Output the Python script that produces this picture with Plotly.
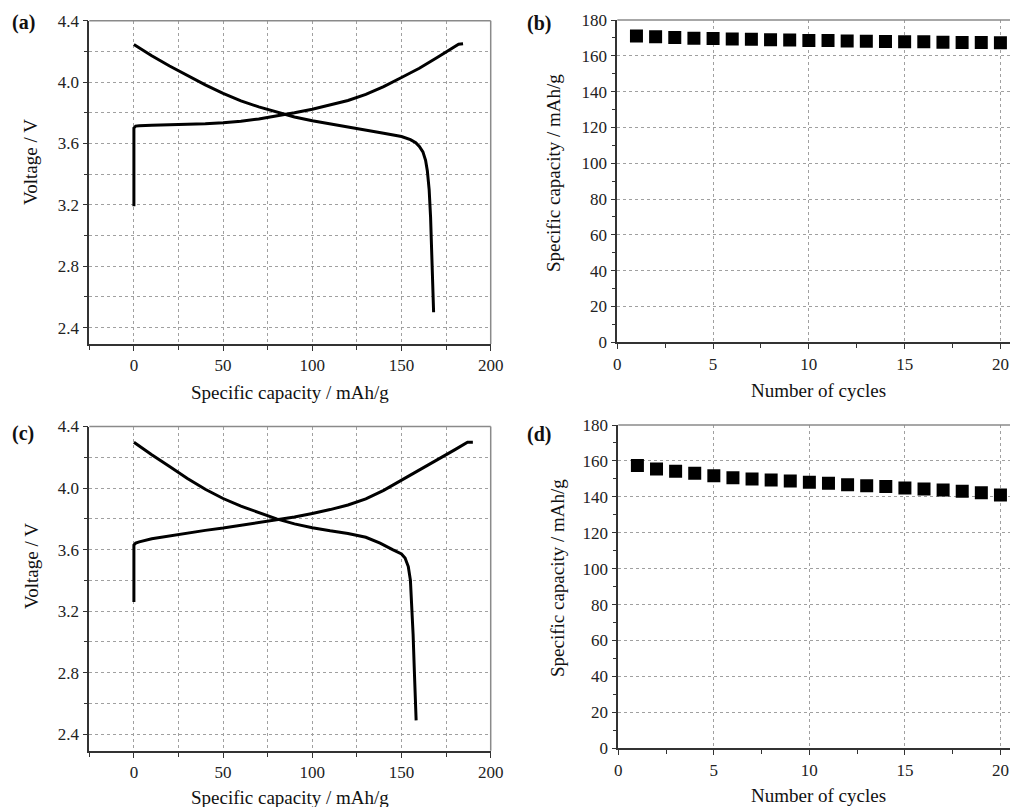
import plotly.graph_objects as go

# ---------------- data ----------------
# (a) charge / discharge curves
a_chg_x = [0, 0, 0, 1, 3, 10, 25, 40, 50, 60, 70, 80, 90, 100, 110, 120, 130, 140, 150, 160, 170, 178, 182, 184.5]
a_chg_y = [3.19, 3.50, 3.70, 3.713, 3.716, 3.718, 3.722, 3.728, 3.735, 3.745, 3.76, 3.778, 3.80, 3.823, 3.85,
           3.88, 3.92, 3.97, 4.03, 4.09, 4.16, 4.215, 4.247, 4.25]
a_dis_x = [0, 5, 10, 20, 30, 40, 50, 60, 70, 80, 90, 100, 110, 120, 130, 140, 150, 155, 158, 160, 162,
           163.5, 164.5, 165.5, 166.3, 167.2, 168]
a_dis_y = [4.245, 4.207, 4.172, 4.105, 4.042, 3.982, 3.927, 3.878, 3.838, 3.803, 3.772, 3.748, 3.728, 3.71, 3.69,
           3.667, 3.645, 3.625, 3.605, 3.58, 3.545, 3.49, 3.42, 3.30, 3.12, 2.85, 2.50]

# (c) charge / discharge curves
c_chg_x = [0, 0, 0, 1, 3, 10, 25, 40, 50, 60, 70, 80, 90, 100, 110, 120, 130, 140, 150, 160, 170, 180, 187, 190]
c_chg_y = [3.26, 3.45, 3.63, 3.642, 3.65, 3.67, 3.70, 3.725, 3.74, 3.758, 3.775, 3.793, 3.812, 3.835, 3.86,
           3.89, 3.93, 3.985, 4.05, 4.115, 4.18, 4.25, 4.298, 4.298]
c_dis_x = [0, 5, 10, 20, 30, 40, 50, 60, 70, 80, 90, 100, 110, 120, 130, 138, 145, 150, 152, 153.8, 155,
           155.8, 156.5, 157.3, 158.2]
c_dis_y = [4.298, 4.256, 4.216, 4.14, 4.062, 3.992, 3.932, 3.882, 3.84, 3.80, 3.767, 3.742, 3.722, 3.705, 3.68,
           3.642, 3.60, 3.572, 3.545, 3.49, 3.40, 3.25, 3.05, 2.78, 2.49]

# (b), (d) cycling
cycles = list(range(1, 21))
b_cap = [171.0, 170.6, 170.2, 169.8, 169.6, 169.4, 169.2, 169.0, 168.8, 168.6,
         168.5, 168.3, 168.2, 168.0, 167.9, 167.8, 167.6, 167.5, 167.4, 167.3]
d_cap = [157.4, 155.5, 154.2, 153.1, 151.8, 150.7, 149.9, 149.4, 148.8, 148.1,
         147.5, 146.8, 146.2, 145.7, 144.9, 144.4, 143.8, 143.1, 142.3, 141.0]

x_title_ac = "Specific capacity / mAh/g"
y_title_ac = "Voltage / V"
x_title_bd = "Number of cycles"
y_title_bd = "Specific capacity / mAh/g"
panel_labels = ["(a)", "(b)", "(c)", "(d)"]

# ---------------- figure ----------------
W, H = 1010, 807
FONT = "Liberation Serif"
fig = go.Figure()

line_style = dict(color="black", width=3)
fig.add_trace(go.Scatter(x=a_chg_x, y=a_chg_y, mode="lines", line=line_style, xaxis="x", yaxis="y"))
fig.add_trace(go.Scatter(x=a_dis_x, y=a_dis_y, mode="lines", line=line_style, xaxis="x", yaxis="y"))
fig.add_trace(go.Scatter(x=cycles, y=b_cap, mode="markers",
                         marker=dict(symbol="square", size=13, color="black"), xaxis="x2", yaxis="y2"))
fig.add_trace(go.Scatter(x=c_chg_x, y=c_chg_y, mode="lines", line=line_style, xaxis="x3", yaxis="y3"))
fig.add_trace(go.Scatter(x=c_dis_x, y=c_dis_y, mode="lines", line=line_style, xaxis="x3", yaxis="y3"))
fig.add_trace(go.Scatter(x=cycles, y=d_cap, mode="markers",
                         marker=dict(symbol="square", size=13, color="black"), xaxis="x4", yaxis="y4"))

def px_dom(a, b):
    return [a / W, b / W]

def py_dom(top, bottom):
    return [1 - bottom / H, 1 - top / H]

grid = dict(gridcolor="#a0a0a0", gridwidth=1, griddash="dot")
axline = dict(showline=True, linecolor="#333333", linewidth=1.6, ticks="outside",
              tickcolor="#333333", ticklen=5, tickwidth=1.2, zeroline=False,
              tickfont=dict(family=FONT, size=17, color="#222222"))

def volt_x(dom, anchor):
    return dict(domain=dom, anchor=anchor, range=[-25, 200], dtick=50, tick0=0,
                showgrid=True, **grid, **axline,
                minor=dict(dtick=25, tick0=0, ticks="outside", ticklen=4, tickcolor="#333333",
                           showgrid=True, gridcolor="#a0a0a0", griddash="dot"))

def volt_y(dom, anchor):
    return dict(domain=dom, anchor=anchor, range=[2.293, 4.4], dtick=0.4, tick0=2.4,
                tickformat=".1f", showgrid=True, **grid, **axline,
                minor=dict(dtick=0.2, tick0=2.4, ticks="outside", ticklen=4, tickcolor="#333333",
                           showgrid=True, gridcolor="#a0a0a0", griddash="dot"))

def cyc_x(dom, anchor):
    return dict(domain=dom, anchor=anchor, range=[0, 20.5], dtick=5, tick0=0,
                showgrid=True, **grid, **axline,
                minor=dict(dtick=2.5, tick0=0, ticks="outside", ticklen=4, tickcolor="#333333",
                           showgrid=False))

def cyc_y(dom, anchor):
    return dict(domain=dom, anchor=anchor, range=[0, 180], dtick=20, tick0=0,
                showgrid=True, **grid, **axline,
                minor=dict(dtick=10, tick0=0, ticks="outside", ticklen=4, tickcolor="#333333",
                           showgrid=False))

dom_a_x = px_dom(89.3, 490.7)
dom_a_y = py_dom(20.7, 344)
dom_c_y = py_dom(426.5, 750.7)
dom_b_x = px_dom(617.3, 1010)
dom_b_y = py_dom(20, 342.3)
dom_d_x = px_dom(618.3, 1010)
dom_d_y = py_dom(425, 748.3)

fig.update_layout(
    width=W, height=H, margin=dict(l=0, r=0, t=0, b=0, autoexpand=False),
    paper_bgcolor="white", plot_bgcolor="white", showlegend=False,
    xaxis=volt_x(dom_a_x, "y"), yaxis=volt_y(dom_a_y, "x"),
    xaxis2=cyc_x(dom_b_x, "y2"), yaxis2=cyc_y(dom_b_y, "x2"),
    xaxis3=volt_x(dom_a_x, "y3"), yaxis3=volt_y(dom_c_y, "x3"),
    xaxis4=cyc_x(dom_d_x, "y4"), yaxis4=cyc_y(dom_d_y, "x4"),
)

# frame lines (top / right) in light gray
frame = dict(color="#8a8a8a", width=1.5)
for xr, yr, right in [("x", "y", True), ("x3", "y3", True), ("x2", "y2", False), ("x4", "y4", False)]:
    fig.add_shape(type="line", xref=f"{xr} domain", yref=f"{yr} domain", x0=0, x1=1, y0=1, y1=1, line=frame)
    if right:
        fig.add_shape(type="line", xref=f"{xr} domain", yref=f"{yr} domain", x0=1, x1=1, y0=0, y1=1, line=frame)

def ann(text, x, y, size=19, angle=0, bold=False):
    fig.add_annotation(text=f"<b>{text}</b>" if bold else text, x=x / W, y=1 - y / H,
                       xref="paper", yref="paper", showarrow=False, textangle=angle,
                       xanchor="center", yanchor="middle",
                       font=dict(family=FONT, size=size, color="#111111"))

# axis titles
ann(x_title_ac, 290, 392)
ann(x_title_ac, 290, 797)
ann(x_title_bd, 818, 390)
ann(x_title_bd, 818, 795)
ann(y_title_ac, 31, 162, angle=-90)
ann(y_title_ac, 31, 566, angle=-90)
ann(y_title_bd, 553, 173, angle=-90)
ann(y_title_bd, 557, 578, angle=-90)

# panel labels
ann(panel_labels[0], 23, 22, size=20, bold=True)
ann(panel_labels[1], 539, 24, size=20, bold=True)
ann(panel_labels[2], 23, 433, size=20, bold=True)
ann(panel_labels[3], 539, 434, size=20, bold=True)

fig.write_html("out.html", config={"displayModeBar": False},
               post_script="document.body.style.margin='0';document.body.style.overflow='hidden';")
